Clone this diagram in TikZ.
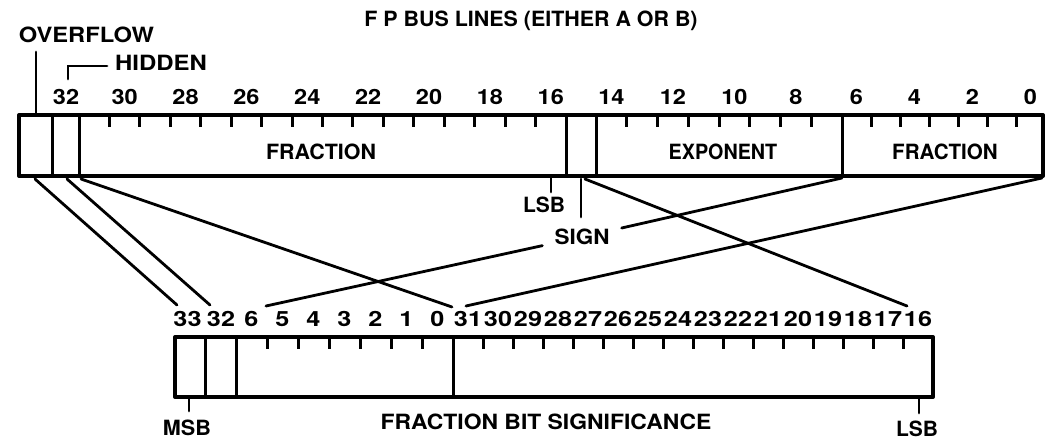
\documentclass[tikz,border=0pt]{standalone}
\usepackage{fontspec}
\setmainfont{TeX Gyre Heros}
\usepackage{graphicx}
\newcommand{\sx}[2]{\scalebox{#1}[1]{#2}}
\begin{document}
\begin{tikzpicture}[x=1pt,y=-1pt,
  lbl/.style={inner sep=0pt, text height=15pt, text depth=0pt,
              font=\fontsize{21}{21}\selectfont\bfseries},
  regbox/.style={draw, line width=4pt, line join=round, inner sep=0pt, outer sep=0pt},
  cellline/.style={line width=3pt},
  tickmark/.style={line width=3pt},
  conn/.style={line width=2.8pt, line cap=round}]
\useasboundingbox (0,0) rectangle (1045,440);

% ---------- registers ----------
\node[regbox, minimum width=1024pt, minimum height=61pt] (top) at (531,145.5) {};
\node[regbox, minimum width=758pt, minimum height=60pt] (bot) at (554,367) {};

% top cell dividers
\foreach \x in {52,79,566,596,842} \draw[cellline] (\x,115) -- (\x,176);
% bottom cell dividers
\foreach \x in {205,236,453} \draw[cellline] (\x,337) -- (\x,397);

% top ticks
\foreach \k in {1,...,15} \draw[tickmark] ({79+\k*30.44},115) -- ++(0,12);
\foreach \k in {1,...,7} \draw[tickmark] ({596+\k*30.75},115) -- ++(0,12);
\foreach \k in {1,...,6} \draw[tickmark] ({842+\k*29},115) -- ++(0,12);
% bottom ticks
\foreach \k in {1,...,6} \draw[tickmark] ({236+\k*31},337) -- ++(0,12);
\foreach \k in {1,...,15} \draw[tickmark] ({453+\k*30},337) -- ++(0,12);

% ---------- top labels ----------
\node[lbl] (title) at (531,19) {\sx{1.02}{F P BUS LINES (EITHER A OR B)}};
\node[lbl] (ovf) at (86.5,35) {\sx{1.13}{OVERFLOW}};
\node[lbl] (hid) at (161,63) {\sx{1.14}{HIDDEN}};
\node[lbl] (t32) at (66,97) {\sx{1.12}{32}};
\foreach \b in {30,28,...,16}
  \node[lbl] (t\b) at ({79+(31-\b+0.5)*30.44},97) {\sx{1.12}{\b}};
\foreach \b in {14,12,10,8}
  \node[lbl] (t\b) at ({596+(14-\b+0.5)*30.75},97) {\sx{1.12}{\b}};
\foreach \b in {6,4,2,0}
  \node[lbl] (t\b) at ({842+(6-\b+0.5)*29},97) {\sx{1.12}{\b}};

\node[lbl] (ffrac) at (321,152) {\sx{1.02}{FRACTION}};
\node[lbl] (fexp) at (723,152) {\sx{0.94}{EXPONENT}};
\node[lbl] (ffrac2) at (945,152) {\sx{0.98}{FRACTION}};

% ---------- bottom labels ----------
\node[lbl] (b33) at (187.5,319) {\sx{1.2}{33}};
\node[lbl] (b32) at (221,319) {\sx{1.2}{32}};
\foreach \b in {6,...,0}
  \node[lbl] (b\b) at ({236+(6-\b+0.5)*31},319) {\sx{1.2}{\b}};
\foreach \b in {31,...,16}
  \node[lbl] (b\b) at ({453+(31-\b+0.5)*30},319) {\sx{1.2}{\b}};

\node[lbl] (msb) at (187,428) {\sx{1.03}{MSB}};
\node[lbl] (lsb2) at (917,429) {LSB};
\node[lbl] (fbs) at (546,422) {\sx{1.09}{FRACTION BIT SIGNIFICANCE}};

% ---------- pointer lines ----------
\coordinate (ovT) at (36,52);   \coordinate (ovB) at (36,113);
\draw[conn] (ovT) -- (ovB);
\coordinate (hdA) at (68,79);   \coordinate (hdB) at (68,66);  \coordinate (hdC) at (107,66);
\draw[conn] (hdA) -- (hdB) -- (hdC);

\node[lbl] (lsb) at (544,205) {LSB};
\coordinate (lsbT) at (551,178); \coordinate (lsbB) at (551,192);
\draw[conn] (lsbT) -- (lsbB);

\node[lbl, inner xsep=12pt, inner ysep=3pt] (sign) at (582,237) {\sx{1.07}{SIGN}};
\coordinate (sgT) at (581,179); \coordinate (sgB) at (581,217);
\draw[conn] (sgT) -- (sgB);

\coordinate (mT) at (189,398); \coordinate (mB) at (189,411);
\draw[conn] (mT) -- (mB);
\coordinate (lT) at (919,398); \coordinate (lB) at (919,413);
\draw[conn] (lT) -- (lB);

% ---------- connectors between registers ----------
\coordinate (ovS) at (35,179);   \coordinate (ovE) at (177,305);
\coordinate (hdS) at (67,179);   \coordinate (hdE) at (210,305);
\coordinate (frS) at (81,179);   \coordinate (frE) at (452,307);
\coordinate (sgS) at (585,179);  \coordinate (sgE) at (907,306);
\coordinate (exS) at (842,178);  \coordinate (exE) at (266,306);
\coordinate (rtS) at (1042,178); \coordinate (rtE) at (466,306);

\draw[conn] (ovS) -- (ovE);
\draw[conn] (hdS) -- (hdE);
\draw[conn] (frS) -- (frE);
\draw[conn] (sgS) -- (sgE);
\draw[conn] (exS) -- (sign);
\draw[conn] (sign) -- (exE);
\draw[conn] (rtS) -- (rtE);
\end{tikzpicture}
\end{document}
